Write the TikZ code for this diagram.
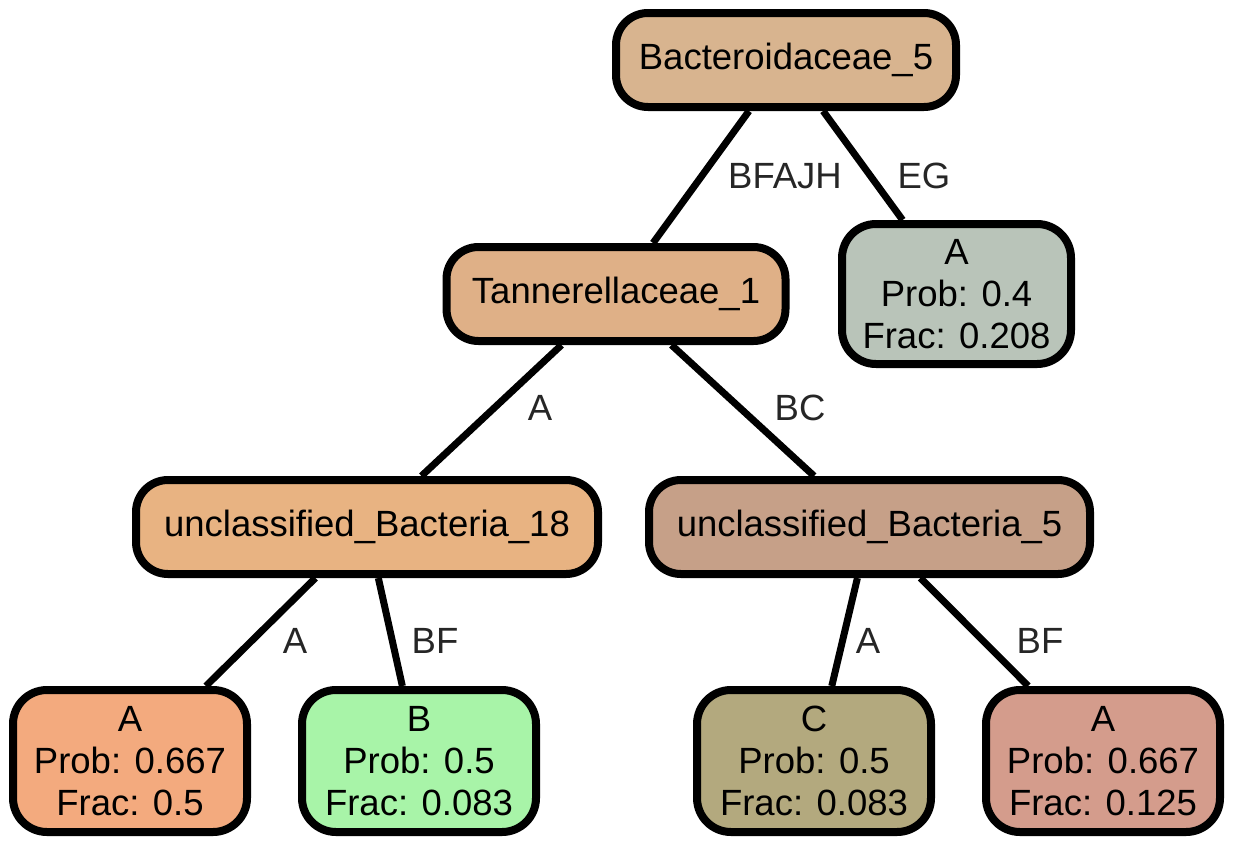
\documentclass[tikz,border=0pt]{standalone}
\usepackage{fontspec}
\setmainfont{Liberation Sans}
\begin{document}
\begin{tikzpicture}[x=1pt,y=-1pt,
  box/.style={draw=black, line width=8pt, rounded corners=32pt, inner sep=0pt,
    align=center, font=\fontsize{36.5}{42}\selectfont},
  inner/.style={box, minimum height=94pt},
  leaf/.style={box, minimum width=234pt, minimum height=142pt, rounded corners=34pt},
  elabel/.style={text=black!85, font=\fontsize{36.5}{42}\selectfont, inner sep=0pt},
  link/.style={draw=black, line width=7pt}
]
\useasboundingbox (0,0) rectangle (1233,846);

% colours of the nodes
\definecolor{cRoot}{RGB}{216,180,143}
\definecolor{cTan}{RGB}{223,176,135}
\definecolor{cAfour}{RGB}{185,196,185}
\definecolor{cUBa}{RGB}{232,179,130}
\definecolor{cUBb}{RGB}{198,160,136}
\definecolor{cLA}{RGB}{243,170,126}
\definecolor{cLB}{RGB}{168,244,168}
\definecolor{cLC}{RGB}{179,169,126}
\definecolor{cLD}{RGB}{212,156,140}

% centres of the split nodes
\coordinate (pr) at (786,60);
\coordinate (pt) at (616,294);
\coordinate (pa) at (367,527);
\coordinate (pb) at (869.5,527);

% internal nodes
\node[inner, fill=cRoot, minimum width=340pt] (root) at (pr) {Bacteroidaceae\_5};
\node[inner, fill=cTan, minimum width=339pt] (tan) at (pt) {Tannerellaceae\_1};
\node[inner, fill=cUBa, minimum width=462pt] (ub18) at (pa) {unclassified\_Bacteria\_18};
\node[inner, fill=cUBb, minimum width=441pt] (ub5) at (pb) {unclassified\_Bacteria\_5};

% leaves
\node[leaf, fill=cAfour, minimum width=229pt, minimum height=140pt] (l0) at (956.5,294) {A\\Prob: 0.4\\Frac: 0.208};
\node[leaf, fill=cLA] (l1) at (130,761) {A\\Prob: 0.667\\Frac: 0.5};
\node[leaf, fill=cLB] (l2) at (419,761) {B\\Prob: 0.5\\Frac: 0.083};
\node[leaf, fill=cLC] (l3) at (814,761) {C\\Prob: 0.5\\Frac: 0.083};
\node[leaf, fill=cLD] (l4) at (1103,761) {A\\Prob: 0.667\\Frac: 0.125};

% connectors
\draw[link] (root) -- (tan);
\draw[link] (root) -- (l0);
\draw[link] (tan) -- (ub18);
\draw[link] (tan) -- (ub5);
\draw[link] (ub18) -- (l1);
\draw[link] (ub18) -- (l2);
\draw[link] (ub5) -- (l3);
\draw[link] (ub5) -- (l4);

% edge labels
\node[elabel] (e1) at (785,176) {BFAJH};
\node[elabel] (e2) at (924,176) {EG};
\node[elabel] (e3) at (540,408) {A};
\node[elabel] (e4) at (800,408) {BC};
\node[elabel] (e5) at (295,641) {A};
\node[elabel] (e6) at (435,641) {BF};
\node[elabel] (e7) at (868,641) {A};
\node[elabel] (e8) at (1040,641) {BF};
\end{tikzpicture}
\end{document}
